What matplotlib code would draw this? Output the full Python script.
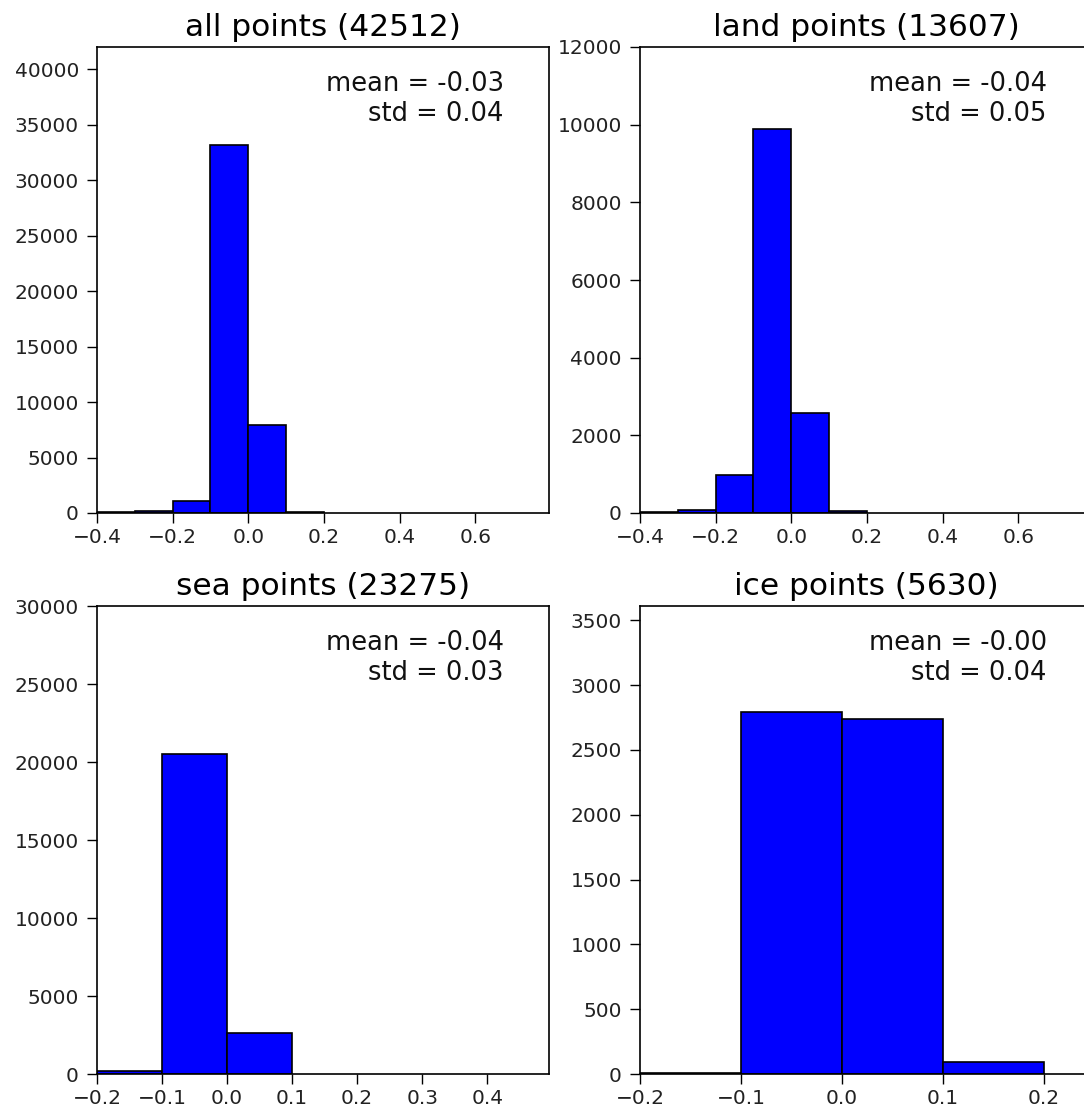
import matplotlib
matplotlib.use("Agg")
import matplotlib.pyplot as plt

# ---- histogram data (bin width 0.1) ----
BIN_WIDTH = 0.1

all_left = [-0.4, -0.3, -0.2, -0.1, 0.0, 0.1]
all_counts = [50, 160, 1100, 33200, 7900, 102]

land_left = [-0.4, -0.3, -0.2, -0.1, 0.0, 0.1]
land_counts = [30, 80, 987, 9900, 2570, 40]

sea_left = [-0.2, -0.1, 0.0]
sea_counts = [175, 20500, 2600]

ice_left = [-0.2, -0.1, 0.0, 0.1]
ice_counts = [10, 2790, 2735, 95]

titles = ["all points (42512)", "land points (13607)",
          "sea points (23275)", "ice points (5630)"]
means = [-0.03, -0.04, -0.04, -0.00]
stds = [0.04, 0.05, 0.03, 0.04]

xlims = [(-0.4, 0.795), (-0.4, 0.795), (-0.2, 0.495), (-0.2, 0.248)]
ylims = [(0, 42000), (0, 12000), (0, 30000), (0, 3610)]

# axes boxes in figure fraction (left, bottom, width, height)
W, H = 1084.0, 1115.0
boxes = [
    (97 / W, 1 - 513 / H, 452 / W, 466 / H),
    (640 / W, 1 - 513 / H, 452 / W, 466 / H),
    (97 / W, 1 - 1074 / H, 452 / W, 468 / H),
    (640 / W, 1 - 1074 / H, 452 / W, 468 / H),
]

data = [(all_left, all_counts), (land_left, land_counts),
        (sea_left, sea_counts), (ice_left, ice_counts)]

fig = plt.figure(figsize=(W / 100, H / 100), dpi=100)

for i, (left, counts) in enumerate(data):
    ax = fig.add_axes(boxes[i])
    ax.bar(left, counts, width=BIN_WIDTH, align="edge",
           color="#0000ff", edgecolor="black", linewidth=1.2)
    ax.set_xlim(*xlims[i])
    ax.set_ylim(*ylims[i])
    ax.set_title(titles[i], fontsize=22.5, pad=8)
    # last line baseline sits at y
    ax.text(0.9, 0.842, "mean = %.2f\nstd = %.2f" % (means[i], stds[i]),
            transform=ax.transAxes, ha="right", va="baseline",
            multialignment="right", fontsize=18.5, color="#111111")
    ax.tick_params(direction="out", length=7, width=1.0, labelsize=14.5,
                   top=False, right=False, labelcolor="#222222")
    ax.tick_params(axis="y", pad=6)
    ax.tick_params(axis="x", pad=4)
    for s in ax.spines.values():
        s.set_linewidth(1.2)

plt.savefig("out.png", dpi=100)
plt.close()
